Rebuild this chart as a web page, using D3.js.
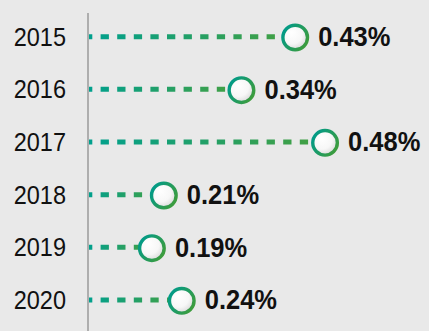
<!DOCTYPE html>
<html>
<head>
<meta charset="utf-8">
<script src="https://cdn.jsdelivr.net/npm/d3@7"></script>
<style>
  html, body { margin: 0; padding: 0; background: #e9e9e9; }
  svg { display: block; }
  text { font-family: "Liberation Sans", Arial, Helvetica, sans-serif; }
</style>
</head>
<body>
<svg id="chart" width="429" height="331"></svg>
<script>
// Yearly rates shown as lollipops
const years = ["2015", "2016", "2017", "2018", "2019", "2020"];
const values = [0.43, 0.34, 0.48, 0.21, 0.19, 0.24];
const valueLabels = ["0.43%", "0.34%", "0.48%", "0.21%", "0.19%", "0.24%"];

const W = 429, H = 331;
const axisX = 88;
const svg = d3.select("#chart");

svg.append("rect").attr("width", W).attr("height", H).attr("fill", "#e9e9e9");

const x = d3.scaleLinear().domain([0.083, 0.5]).range([axisX, 337]);
const y = d3.scalePoint().domain(years).range([36.7, 300]);

const teal = "#00a08e", green = "#46a040";
const defs = svg.append("defs");

// per-row gradient for the dashed stems
years.forEach((yr, i) => {
  const g = defs.append("linearGradient")
    .attr("id", "stem" + i)
    .attr("gradientUnits", "userSpaceOnUse")
    .attr("x1", axisX).attr("x2", x(values[i]))
    .attr("y1", 0).attr("y2", 0);
  g.append("stop").attr("offset", 0).attr("stop-color", teal);
  g.append("stop").attr("offset", 1).attr("stop-color", green);
});

// ring gradient
const ring = defs.append("linearGradient").attr("id", "ring")
  .attr("x1", 0).attr("y1", 0.2).attr("x2", 1).attr("y2", 0.8);
ring.append("stop").attr("offset", 0).attr("stop-color", "#009b8a");
ring.append("stop").attr("offset", 1).attr("stop-color", "#3f9c3a");

// glossy knob fill
const knob = defs.append("radialGradient").attr("id", "knob")
  .attr("cx", 0.4).attr("cy", 0.38).attr("r", 0.68).attr("fx", 0.35).attr("fy", 0.3);
knob.append("stop").attr("offset", 0).attr("stop-color", "#ffffff");
knob.append("stop").attr("offset", 0.6).attr("stop-color", "#f7f7f7");
knob.append("stop").attr("offset", 0.85).attr("stop-color", "#e2e2e2");
knob.append("stop").attr("offset", 1).attr("stop-color", "#8a8a8a");

// vertical axis line
svg.append("line")
  .attr("x1", axisX).attr("x2", axisX)
  .attr("y1", 13).attr("y2", H)
  .attr("stroke", "#9a9a9a").attr("stroke-width", 1.5);

// year labels
svg.append("g").selectAll("text").data(years).join("text")
  .attr("transform", d => `translate(66,${y(d)}) scale(1,1.08)`)
  .attr("text-anchor", "end")
  .attr("dominant-baseline", "central")
  .attr("font-size", 23.5)
  .attr("fill", "#111")
  .text(d => d);

const rows = svg.append("g").selectAll("g").data(values).join("g");

// dashed stems
rows.append("line")
  .attr("x1", axisX + 1).attr("x2", (d) => x(d) - 12)
  .attr("y1", (d, i) => y(years[i])).attr("y2", (d, i) => y(years[i]))
  .attr("stroke", (d, i) => `url(#stem${i})`)
  .attr("stroke-width", 5)
  .attr("stroke-dasharray", "8.3 8.3")
  .attr("stroke-dashoffset", 5);

// knobs
rows.append("circle")
  .attr("cx", d => x(d)).attr("cy", (d, i) => y(years[i]) + 0.8)
  .attr("r", 12.3)
  .attr("fill", "url(#knob)")
  .attr("stroke", "url(#ring)")
  .attr("stroke-width", 3.4);

// value labels
rows.append("text")
  .attr("transform", (d, i) => `translate(${x(d) + 23},${y(years[i])}) scale(1,1.05)`)
  .attr("dominant-baseline", "central")
  .attr("font-size", 25.5)
  .attr("font-weight", "bold")
  .attr("fill", "#111")
  .text((d, i) => valueLabels[i]);
</script>
</body>
</html>
